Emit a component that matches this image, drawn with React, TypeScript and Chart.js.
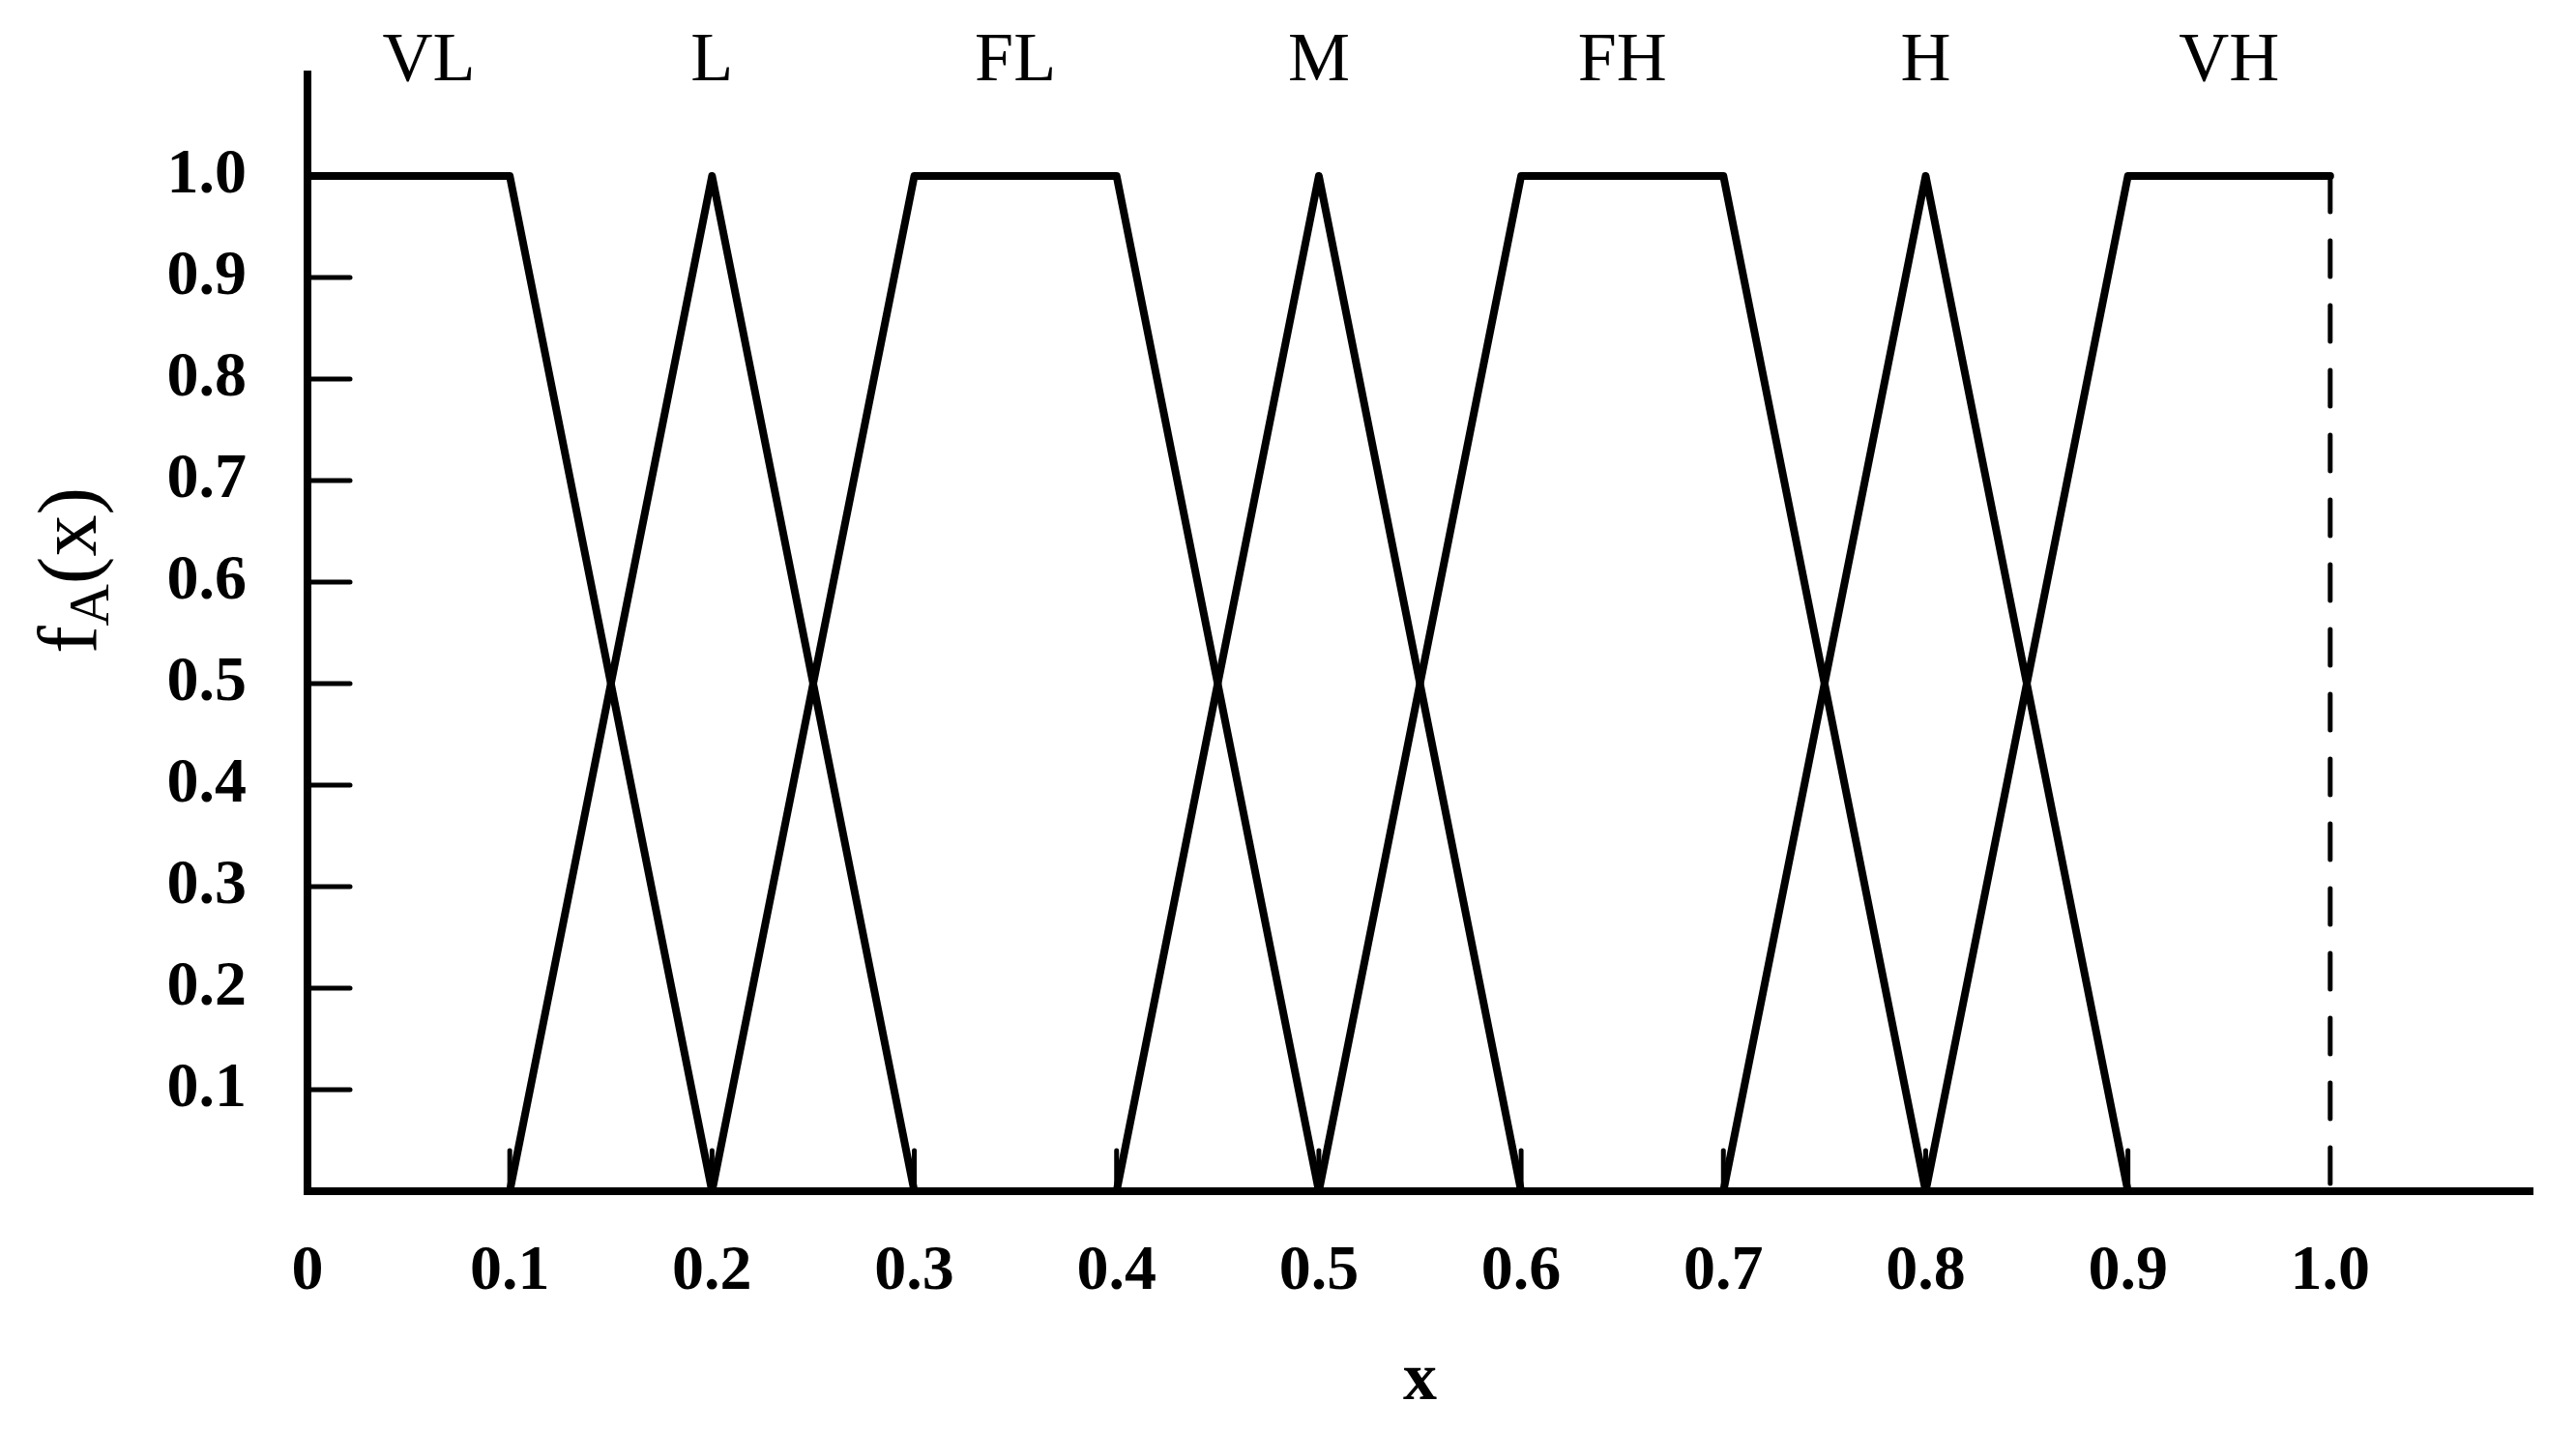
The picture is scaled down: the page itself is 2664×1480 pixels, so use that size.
import React, { useEffect, useRef } from "react";
import { Chart, registerables } from "chart.js";

Chart.register(...registerables);

// ---- data ----
const categories = ["VL", "L", "FL", "M", "FH", "H", "VH"];
const labelAnchors = [0.06, 0.2, 0.35, 0.5, 0.65, 0.8, 0.95];

const vlX = [0, 0.1, 0.2];
const vlY = [1, 1, 0];
const lX = [0.1, 0.2, 0.3];
const lY = [0, 1, 0];
const flX = [0.2, 0.3, 0.4, 0.5];
const flY = [0, 1, 1, 0];
const mX = [0.4, 0.5, 0.6];
const mY = [0, 1, 0];
const fhX = [0.5, 0.6, 0.7, 0.8];
const fhY = [0, 1, 1, 0];
const hX = [0.7, 0.8, 0.9];
const hY = [0, 1, 0];
const vhX = [0.8, 0.9, 1.0];
const vhY = [0, 1, 1];

const edgeX = [1.0, 1.0];
const edgeY = [1, 0];

const xTickValues = [0, 0.1, 0.2, 0.3, 0.4, 0.5, 0.6, 0.7, 0.8, 0.9, 1.0];
const xTickLabels = ["0", "0.1", "0.2", "0.3", "0.4", "0.5", "0.6", "0.7", "0.8", "0.9", "1.0"];
const yTickValues = [0.1, 0.2, 0.3, 0.4, 0.5, 0.6, 0.7, 0.8, 0.9, 1.0];
const yTickLabels = ["0.1", "0.2", "0.3", "0.4", "0.5", "0.6", "0.7", "0.8", "0.9", "1.0"];
const innerTicks = [0.1, 0.2, 0.3, 0.4, 0.5, 0.6, 0.7, 0.8, 0.9];

const xTitle = "x";
const yTitleMain = "f";
const yTitleSub = "A";
const yTitleRest = "(x)";

const FONT = "'Liberation Serif', 'Times New Roman', serif";

const toPoints = (xs: number[], ys: number[]) => xs.map((x, i) => ({ x, y: ys[i] }));

const overlayPlugin = {
  id: "overlay",
  afterDatasetsDraw(chart: any) {
    const { ctx, chartArea, scales } = chart;
    const xs = scales.x;
    const ys = scales.y;
    ctx.save();
    ctx.strokeStyle = "#000";
    ctx.fillStyle = "#000";
    ctx.lineCap = "round";
    ctx.lineWidth = 5;
    const y0 = ys.getPixelForValue(0);
    const x0 = xs.getPixelForValue(0);
    // inner ticks on x axis
    innerTicks.forEach((v) => {
      const px = xs.getPixelForValue(v);
      ctx.beginPath();
      ctx.moveTo(px, y0);
      ctx.lineTo(px, y0 - 42);
      ctx.stroke();
    });
    // inner ticks on y axis
    innerTicks.forEach((v) => {
      const py = ys.getPixelForValue(v);
      ctx.beginPath();
      ctx.moveTo(x0, py);
      ctx.lineTo(x0 + 44, py);
      ctx.stroke();
    });
    // category labels
    ctx.font = `72px ${FONT}`;
    ctx.textAlign = "center";
    ctx.textBaseline = "alphabetic";
    categories.forEach((c, i) => {
      ctx.fillText(c, xs.getPixelForValue(labelAnchors[i]), chartArea.top + 6);
    });
    // y axis title with subscript
    const mainFont = `86px ${FONT}`;
    const subFont = `60px ${FONT}`;
    ctx.font = mainFont;
    const w1 = ctx.measureText(yTitleMain).width;
    const w3 = ctx.measureText(yTitleRest).width;
    ctx.font = subFont;
    const w2 = ctx.measureText(yTitleSub).width;
    const total = w1 + w2 + w3;
    const cy = (ys.getPixelForValue(0.5) + ys.getPixelForValue(0.7)) / 2 - 12;
    ctx.translate(99, cy + total / 2);
    ctx.rotate(-Math.PI / 2);
    ctx.textAlign = "left";
    ctx.font = mainFont;
    ctx.fillText(yTitleMain, 0, 0);
    ctx.font = subFont;
    ctx.fillText(yTitleSub, w1, 13);
    ctx.font = mainFont;
    ctx.fillText(yTitleRest, w1 + w2, 0);
    ctx.restore();
  },
};

export default function App() {
  const ref = useRef<HTMLCanvasElement | null>(null);
  useEffect(() => {
    if (!ref.current) return;
    const lineStyle = {
      borderColor: "#000",
      borderWidth: 8,
      pointRadius: 0,
      tension: 0,
      fill: false,
      borderCapStyle: "round",
      borderJoinStyle: "round",
      showLine: true,
    };
    const sets: [number[], number[]][] = [
      [vlX, vlY],
      [lX, lY],
      [flX, flY],
      [mX, mY],
      [fhX, fhY],
      [hX, hY],
      [vhX, vhY],
    ];
    const datasets: any[] = sets.map(([xs, ys], i) => ({
      label: categories[i],
      data: toPoints(xs, ys),
      ...lineStyle,
    }));
    datasets.push({
      label: "edge",
      data: toPoints(edgeX, edgeY),
      borderColor: "#000",
      borderWidth: 5,
      borderDash: [37, 30],
      borderCapStyle: "round",
      pointRadius: 0,
      showLine: true,
      fill: false,
    });

    const chart = new Chart(ref.current, {
      type: "line",
      data: { datasets },
      plugins: [overlayPlugin],
      options: {
        animation: false,
        responsive: true,
        maintainAspectRatio: false,
        layout: { padding: { top: 77, right: 45, left: 0, bottom: 0 } },
        plugins: { legend: { display: false }, tooltip: { enabled: false } },
        scales: {
          x: {
            type: "linear",
            min: 0,
            max: 1.1,
            position: "bottom",
            afterBuildTicks: (s: any) => {
              s.ticks = xTickValues.map((value) => ({ value }));
            },
            afterFit: (s: any) => {
              s.height = 248;
              s.paddingLeft = 0;
              s.paddingRight = 0;
            },
            ticks: {
              autoSkip: false,
              maxRotation: 0,
              padding: 44,
              color: "#000",
              font: { family: FONT, size: 66, weight: "bold" },
              callback: (_v: any, i: number) => xTickLabels[i],
            },
            grid: { display: false, drawTicks: false },
            border: { display: true, color: "#000", width: 8 },
            title: {
              display: true,
              text: xTitle,
              color: "#000",
              font: { family: FONT, size: 70, weight: "bold" },
              padding: { top: 0, bottom: 9 },
            },
          },
          y: {
            type: "linear",
            min: 0,
            max: 1.1,
            position: "left",
            afterBuildTicks: (s: any) => {
              s.ticks = yTickValues.map((value) => ({ value }));
            },
            afterFit: (s: any) => {
              s.width = 318;
              s.paddingTop = 0;
              s.paddingBottom = 0;
            },
            ticks: {
              autoSkip: false,
              padding: 63,
              color: "#000",
              font: { family: FONT, size: 66, weight: "bold" },
              callback: (_v: any, i: number) => yTickLabels[i],
            },
            grid: { display: false, drawTicks: false },
            border: { display: true, color: "#000", width: 8 },
          },
        },
      } as any,
    });
    return () => chart.destroy();
  }, []);

  return (
    <div style={{ position: "fixed", left: 0, top: 0, width: "2664px", height: "1480px", background: "#fff" }}>
      <canvas ref={ref} />
    </div>
  );
}
